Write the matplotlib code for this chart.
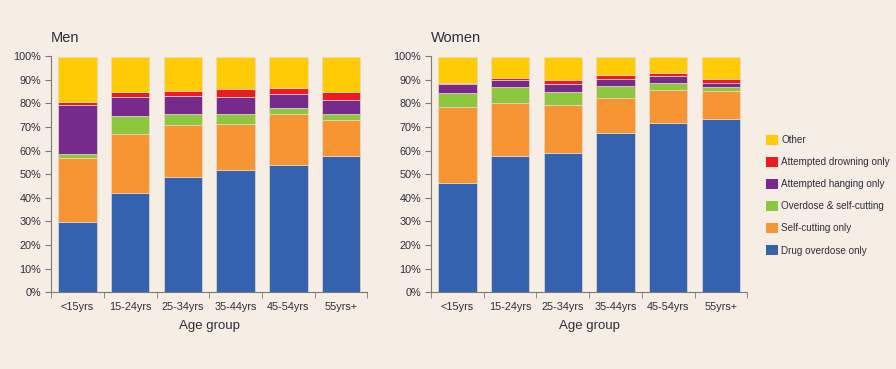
import numpy as np
import matplotlib.pyplot as plt
from matplotlib.patches import Patch

age_groups = ['<15yrs', '15-24yrs', '25-34yrs', '35-44yrs', '45-54yrs', '55yrs+']
methods = ['Drug overdose only', 'Self-cutting only', 'Overdose & self-cutting',
           'Attempted hanging only', 'Attempted drowning only', 'Other']
colors = ['#3462AE', '#F79433', '#8DC63F', '#762A8C', '#ED1C24', '#FFCB05']

# percentages per method (rows follow `methods`)
men = {
    'Drug overdose only':      [29.7, 42.1, 49.0, 51.7, 54.0, 57.6],
    'Self-cutting only':       [27.1, 24.9, 22.0, 19.5, 21.3, 15.4],
    'Overdose & self-cutting': [1.9, 7.5, 4.3, 4.2, 2.7, 2.4],
    'Attempted hanging only':  [20.8, 8.3, 7.9, 7.3, 6.0, 6.1],
    'Attempted drowning only': [0.9, 1.8, 2.0, 3.2, 2.4, 3.2],
    'Other':                   [19.1, 14.9, 14.3, 13.6, 13.1, 14.8],
}
women = {
    'Drug overdose only':      [46.3, 57.6, 59.0, 67.4, 71.6, 73.3],
    'Self-cutting only':       [32.2, 22.5, 20.4, 14.9, 14.0, 12.1],
    'Overdose & self-cutting': [5.8, 6.9, 5.4, 5.2, 3.0, 1.7],
    'Attempted hanging only':  [4.0, 2.9, 3.2, 2.8, 2.9, 1.3],
    'Attempted drowning only': [0.2, 1.0, 1.8, 1.6, 1.5, 1.8],
    'Other':                   [11.0, 8.6, 9.7, 7.6, 6.5, 9.3],
}

bg = '#F6EDE4'
txt = '#2E2E3A'
plt.rcParams['font.family'] = ['Liberation Sans', 'DejaVu Sans']

fig = plt.figure(figsize=(8.96, 3.69), dpi=100, facecolor=bg)
ax_men = fig.add_axes([0.057, 0.208, 0.353, 0.640])
ax_wom = fig.add_axes([0.481, 0.208, 0.353, 0.640])

def draw(ax, data, title):
    ax.set_facecolor(bg)
    x = np.arange(len(age_groups))
    bottom = np.zeros(len(age_groups))
    for m, c in zip(methods, colors):
        vals = np.array(data[m])
        ax.bar(x, vals, bottom=bottom, width=0.73, color=c,
               edgecolor='#E8D9C8', linewidth=0.5)
        bottom += vals
    ax.set_xlim(-0.5, len(age_groups) - 0.5)
    ax.set_ylim(0, 100)
    ax.set_yticks(np.arange(0, 101, 10))
    ax.set_yticklabels([f'{v}%' for v in range(0, 101, 10)])
    ax.set_xticks(x)
    ax.set_xticklabels(age_groups)
    ax.set_xticks(np.arange(-0.5, len(age_groups)), minor=True)
    ax.tick_params(axis='x', which='major', length=0, pad=7, labelsize=7.8, colors=txt)
    ax.tick_params(axis='x', which='minor', length=4, color='#7A7A7A', direction='out')
    ax.tick_params(axis='y', length=4, color='#7A7A7A', labelsize=7.8, colors=txt, pad=3)
    for s in ['top', 'right']:
        ax.spines[s].set_visible(False)
    for s in ['left', 'bottom']:
        ax.spines[s].set_color('#7A7A7A')
        ax.spines[s].set_linewidth(0.8)
    ax.set_xlabel('Age group', fontsize=9.5, color=txt, labelpad=6)
    ax.text(0.0, 1.045, title, transform=ax.transAxes, fontsize=10.5,
            color=txt, ha='left', va='bottom')

draw(ax_men, men, 'Men')
draw(ax_wom, women, 'Women')

handles = [Patch(facecolor=c, edgecolor='none') for c in colors][::-1]
fig.legend(handles, methods[::-1], loc='upper left', bbox_to_anchor=(0.851, 0.645),
           frameon=False, fontsize=7.1, handlelength=1.15, handleheight=1.15,
           labelspacing=1.2, handletextpad=0.35, labelcolor=txt, borderaxespad=0)

fig.savefig('out.png', dpi=100, facecolor=bg)
